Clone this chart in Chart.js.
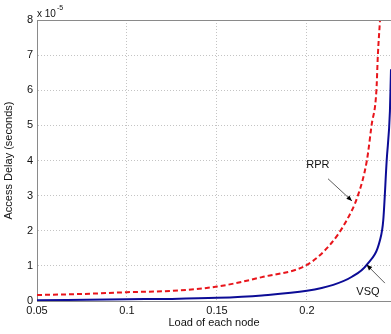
<!DOCTYPE html>
<html>
<head>
<meta charset="utf-8">
<script src="https://cdn.jsdelivr.net/npm/chart.js@4/dist/chart.umd.min.js"></script>
<style>
  html, body { margin: 0; padding: 0; background: #fff; overflow: hidden; }
  #wrap { width: 391px; height: 334px; }
</style>
</head>
<body>
<div id="wrap"><canvas id="canvas-1" width="391" height="334"></canvas></div>
<script>
'use strict';

// values (delay in units of 1e-5 s)
var loadRPR  = [0.05, 0.075, 0.1, 0.125, 0.15, 0.175, 0.2, 0.2128, 0.2221, 0.2283, 0.2333, 0.2359, 0.2386, 0.2394, 0.2406];
var delayRPR = [0.17, 0.2, 0.25, 0.29, 0.41, 0.68, 1.03, 1.6, 2.3, 3.0, 4.0, 5.0, 6.0, 7.0, 8.0];
var loadVSQ  = [0.05, 0.1, 0.125, 0.15, 0.175, 0.2, 0.2146, 0.225, 0.2332, 0.2406, 0.2424, 0.2443, 0.2461, 0.2467, 0.2478];
var delayVSQ = [0.02, 0.05, 0.06, 0.09, 0.16, 0.29, 0.46, 0.69, 1.03, 1.74, 2.3, 4.0, 5.4, 6.6, 8.5];
var xTicks = [0.05, 0.1, 0.15, 0.2];
var yTicks = [0, 1, 2, 3, 4, 5, 6, 7, 8];

// text labels with arrows (data units)
var notes = [
  { text: 'RPR', tx: 0.2061, ty: 3.87, ax: 0.2117, ay: 3.48, px: 0.225, py: 2.85 },
  { text: 'VSQ', tx: 0.2339, ty: 0.26, ax: 0.2433, ay: 0.51, px: 0.2332, py: 1.03 }
];

var toPoints = function(xs, ys) {
  return xs.map(function(x, i) { return { x: x, y: ys[i] }; });
};

var font = { family: '"Liberation Sans", Arial, sans-serif', size: 11 };

var extras = {
  id: 'extras',
  afterDatasetsDraw: function(chart) {
    var ctx = chart.ctx;
    var area = chart.chartArea;
    var sx = chart.scales.x, sy = chart.scales.y;
    ctx.save();
    // top box line
    ctx.strokeStyle = '#8a8a8a';
    ctx.lineWidth = 1;
    ctx.beginPath();
    ctx.moveTo(area.left, area.top + 0.5);
    ctx.lineTo(area.right, area.top + 0.5);
    ctx.stroke();

    // exponent label
    ctx.fillStyle = '#111';
    ctx.textBaseline = 'alphabetic';
    ctx.textAlign = 'left';
    ctx.font = '10px "Liberation Sans", Arial, sans-serif';
    ctx.fillText('x 10', area.left, area.top - 3);
    var w = ctx.measureText('x 10').width;
    ctx.font = '7px "Liberation Sans", Arial, sans-serif';
    ctx.fillText('-5', area.left + w + 1, area.top - 10);

    // annotations
    notes.forEach(function(n) {
      var x0 = sx.getPixelForValue(n.ax), y0 = sy.getPixelForValue(n.ay);
      var x1 = sx.getPixelForValue(n.px), y1 = sy.getPixelForValue(n.py);
      ctx.strokeStyle = '#333';
      ctx.lineWidth = 0.8;
      ctx.beginPath();
      ctx.moveTo(x0, y0);
      ctx.lineTo(x1, y1);
      ctx.stroke();
      var a = Math.atan2(y1 - y0, x1 - x0);
      ctx.fillStyle = '#000';
      ctx.beginPath();
      ctx.moveTo(x1, y1);
      ctx.lineTo(x1 - 6 * Math.cos(a - 0.4), y1 - 6 * Math.sin(a - 0.4));
      ctx.lineTo(x1 - 6 * Math.cos(a + 0.4), y1 - 6 * Math.sin(a + 0.4));
      ctx.closePath();
      ctx.fill();
      ctx.font = '11px "Liberation Sans", Arial, sans-serif';
      ctx.textAlign = 'center';
      ctx.textBaseline = 'middle';
      ctx.fillStyle = '#111';
      ctx.fillText(n.text, sx.getPixelForValue(n.tx), sy.getPixelForValue(n.ty));
    });
    ctx.restore();
  }
};

var ctx = document.getElementById('canvas-1');
var chart = new Chart(ctx, {
  type: 'line',
  data: {
    datasets: [{
        label: 'RPR',
        data: toPoints(loadRPR, delayRPR),
        borderColor: '#e8151b',
        borderWidth: 2,
        borderDash: [5, 3],
        pointRadius: 0,
        fill: false,
        cubicInterpolationMode: 'monotone'
      },
      {
        label: 'VSQ',
        data: toPoints(loadVSQ, delayVSQ),
        borderColor: '#0c0c96',
        borderWidth: 2,
        pointRadius: 0,
        fill: false,
        cubicInterpolationMode: 'monotone'
      }
    ]
  },
  options: {
    responsive: false,
    animation: false,
    layout: { padding: { top: 20, left: 0, right: 0, bottom: 0 } },
    plugins: { legend: { display: false }, tooltip: { enabled: false } },
    scales: {
      x: {
        type: 'linear',
        min: 0.05,
        max: 0.2467,
        afterBuildTicks: function(scale) {
          scale.ticks = xTicks.map(function(v) { return { value: v }; });
        },
        afterFit: function(scale) { scale.height = 33; },
        grid: { color: '#c4c4c4', drawTicks: false },
        border: { color: '#8a8a8a', dash: [1, 2] },
        ticks: {
          color: '#111',
          font: font,
          padding: 3,
          maxRotation: 0,
          callback: function(v) { return String(Math.round(v * 100) / 100); }
        },
        title: { display: true, text: 'Load of each node', color: '#111', font: font, padding: { top: 0, bottom: 4 } }
      },
      y: {
        min: 0,
        max: 8,
        afterBuildTicks: function(scale) {
          scale.ticks = yTicks.map(function(v) { return { value: v }; });
        },
        afterFit: function(scale) { scale.width = 37; },
        grid: { color: '#c4c4c4', drawTicks: false },
        border: { color: '#8a8a8a', dash: [1, 2] },
        ticks: { color: '#111', font: font, padding: 4 },
        title: { display: true, text: 'Access Delay (seconds)', color: '#111', font: font, padding: { top: 2, bottom: 0 } }
      }
    }
  },
  plugins: [extras]
});
</script>
</body>
</html>
